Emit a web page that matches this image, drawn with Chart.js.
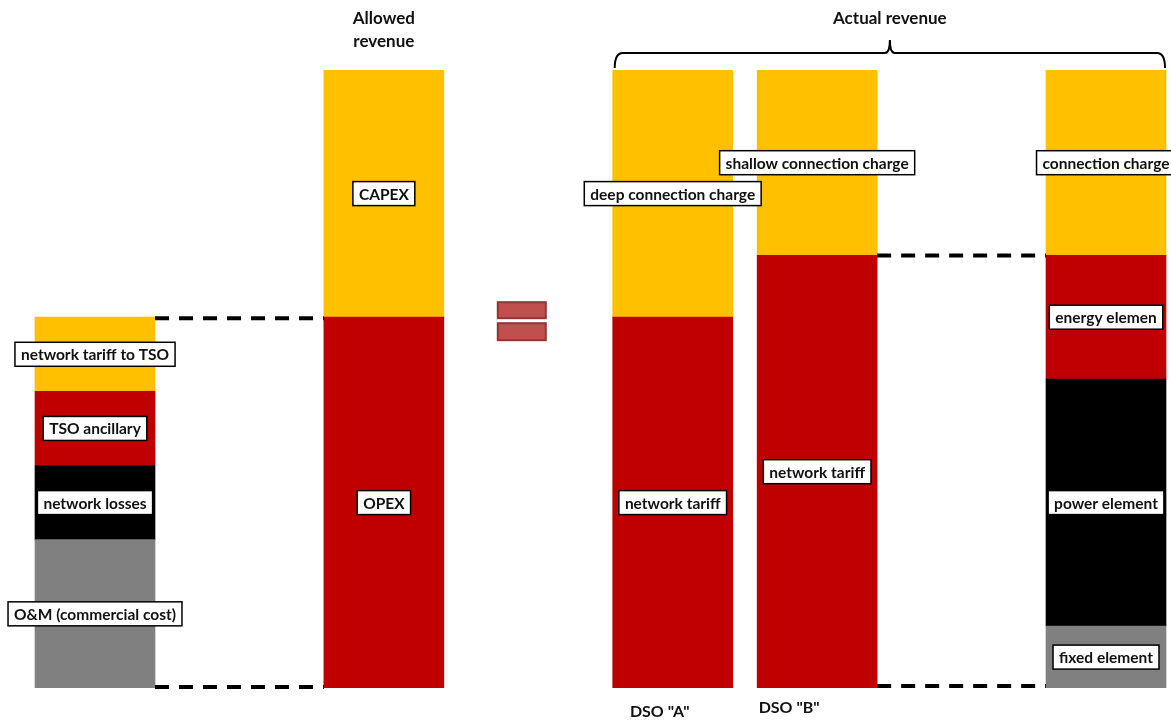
<!DOCTYPE html>
<html>
<head>
<meta charset="utf-8">
<script src="https://cdn.jsdelivr.net/npm/chart.js@4.4.0/dist/chart.umd.min.js"></script>
<style>
  html, body { margin: 0; padding: 0; background: #fff; }
  #wrap { width: 1171px; height: 722px; position: relative; }
</style>
</head>
<body>
<div id="wrap"><canvas id="revenueChart"></canvas></div>
<script>
// bar slots (equal spacing grid) and names
const barSlots = [0, 2, 4, 5, 7];
const barNames = ['', 'Allowed revenue', 'DSO "A"', 'DSO "B"', ''];

// segment values from bottom to top, share of allowed revenue (%)
const costValues = [24, 12, 12, 12];
const allowedValues = [60, 40];
const dsoAValues = [60, 40];
const dsoBValues = [70, 30];
const dsoCValues = [10, 40, 20, 30];

// segment labels
const costLabels = ['O&M (commercial cost)', 'network losses', 'TSO ancillary', 'network tariff to TSO'];
const allowedLabels = ['OPEX', 'CAPEX'];
const dsoALabels = ['network tariff', 'deep connection charge'];
const dsoBLabels = ['network tariff', 'shallow connection charge'];
const dsoCLabels = ['fixed element', 'power element', 'energy elemen', 'connection charge'];

const YELLOW = '#FFC000', RED = '#C00000', BLACK = '#000000', GRAY = '#808080';
const costColors = [GRAY, BLACK, RED, YELLOW];
const allowedColors = [RED, YELLOW];
const dsoAColors = [RED, YELLOW];
const dsoBColors = [RED, YELLOW];
const dsoCColors = [GRAY, BLACK, RED, YELLOW];

const barValues = [costValues, allowedValues, dsoAValues, dsoBValues, dsoCValues];
const barLabels = [costLabels, allowedLabels, dsoALabels, dsoBLabels, dsoCLabels];
const barColors = [costColors, allowedColors, dsoAColors, dsoBColors, dsoCColors];

// one dataset per stack level
const datasets = [];
for (let lvl = 0; lvl < 4; lvl++) {
  const data = [], colors = [], labels = [];
  barValues.forEach((vals, i) => {
    if (vals[lvl] !== undefined) {
      data.push({ x: barSlots[i], y: vals[lvl] });
      colors.push(barColors[i][lvl]);
      labels.push(barLabels[i][lvl]);
    }
  });
  datasets.push({ data, backgroundColor: colors, segLabels: labels, borderWidth: 0, barThickness: 120 });
}

const LABEL_FONT = 'bold 15.5px Lato, "Liberation Sans", sans-serif';

const decorPlugin = {
  id: 'decor',
  afterDatasetsDraw(chart) {
    const ctx = chart.ctx;
    const xs = chart.scales.x, ys = chart.scales.y;
    const half = 60;

    ctx.save();
    // dashed connectors
    ctx.strokeStyle = '#000';
    ctx.lineWidth = 4;
    ctx.setLineDash([14, 10]);
    const dash = (x1, x2, v, dy) => {
      const y = ys.getPixelForValue(v) + dy;
      ctx.beginPath(); ctx.moveTo(x1, y); ctx.lineTo(x2, y); ctx.stroke();
    };
    const edge = (i, side) => xs.getPixelForValue(barSlots[i]) + side * half;
    dash(edge(0, 1), edge(1, -1), 60, 1);
    dash(edge(0, 1), edge(1, -1), 0, -1);
    dash(edge(3, 1), edge(4, -1), 70, 0);
    dash(edge(3, 1), edge(4, -1), 0, -2);
    ctx.setLineDash([]);

    // equals sign
    const ex = xs.getPixelForValue(2.955);
    const ey = ys.getPixelForValue(60);
    ctx.fillStyle = '#C0504D';
    ctx.strokeStyle = '#8C3836';
    ctx.lineWidth = 2;
    [[-15, 16], [6, 17]].forEach(([dy, h]) => {
      ctx.fillRect(ex - 24, ey + dy, 48, h);
      ctx.strokeRect(ex - 24, ey + dy, 48, h);
    });

    // brace over actual revenue bars
    const bl = edge(2, -1) + 2, br = edge(4, 1) - 1;
    const bm = (bl + br) / 2, by = 53;
    ctx.strokeStyle = '#000';
    ctx.lineWidth = 2;
    ctx.beginPath();
    ctx.moveTo(bl, 68);
    ctx.quadraticCurveTo(bl, by, bl + 8, by);
    ctx.lineTo(bm - 5, by);
    ctx.quadraticCurveTo(bm, by, bm, 40);
    ctx.quadraticCurveTo(bm, by, bm + 5, by);
    ctx.lineTo(br - 8, by);
    ctx.quadraticCurveTo(br, by, br, 68);
    ctx.stroke();

    // headings
    ctx.fillStyle = '#111';
    ctx.font = 'bold 17px Lato, "Liberation Sans", sans-serif';
    ctx.textAlign = 'center';
    ctx.textBaseline = 'middle';
    const ax = xs.getPixelForValue(barSlots[1]);
    ctx.fillText('Allowed', ax, 19);
    ctx.fillText('revenue', ax, 42);
    ctx.fillText('Actual revenue', bm, 19);
    ctx.font = 'bold 16px Lato, "Liberation Sans", sans-serif';
    ctx.fillText(barNames[2], xs.getPixelForValue(barSlots[2]) - 13, 712);
    ctx.fillText(barNames[3], xs.getPixelForValue(barSlots[3]) - 28, 708);

    // segment labels in boxes
    ctx.font = LABEL_FONT;
    chart.data.datasets.forEach((ds, di) => {
      chart.getDatasetMeta(di).data.forEach((el, j) => {
        const text = ds.segLabels[j];
        const cx = el.x, cy = (el.y + el.base) / 2;
        const w = ctx.measureText(text).width + 12, h = 24;
        ctx.fillStyle = '#fff';
        ctx.fillRect(cx - w / 2, cy - h / 2, w, h);
        ctx.strokeStyle = '#000';
        ctx.lineWidth = 1.5;
        ctx.strokeRect(cx - w / 2, cy - h / 2, w, h);
        ctx.fillStyle = '#111';
        ctx.fillText(text, cx, cy + 1);
      });
    });
    ctx.restore();
  }
};

new Chart('revenueChart', {
  type: 'bar',
  data: { datasets },
  options: {
    responsive: true,
    maintainAspectRatio: false,
    animation: false,
    layout: { padding: { top: 70, bottom: 34, left: 0, right: 0 } },
    plugins: { legend: { display: false }, tooltip: { enabled: false } },
    scales: {
      x: { type: 'linear', stacked: true, display: false, offset: false, min: -0.6578, max: 7.450 },
      y: { stacked: true, display: false, min: 0, max: 100 }
    }
  },
  plugins: [decorPlugin]
});
</script>
</body>
</html>
